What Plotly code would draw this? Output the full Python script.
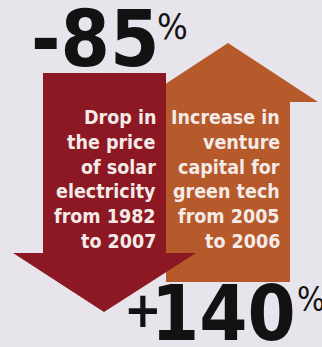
import plotly.graph_objects as go

# ---- data ----
values = ["-85", "+140"]
units = ["%", "%"]
labels_drop = ["Drop in", "the price", "of solar", "electricity", "from 1982", "to 2007"]
labels_rise = ["Increase in", "venture", "capital for", "green tech", "from 2005", "to 2006"]

# ---- style / layout constants ----
W, H = 322, 347
BG = "#e7e4eb"
RED = "#8b1822"
ORANGE = "#b6592b"
TXT = "#f4ebe8"
BODY_FONT = "DejaVu Sans Condensed, DejaVu Sans, sans-serif"
BIG_FONT = "DejaVu Sans Condensed, DejaVu Sans, sans-serif"

fig = go.Figure()

# orange (up) arrow, drawn first
ox = [166, 166, 138, 228, 318, 290, 290, 166]
oy = [282, 102, 102, 43, 102, 102, 282, 282]
fig.add_trace(go.Scatter(x=ox, y=oy, mode="lines", fill="toself",
                         fillcolor=ORANGE, line=dict(width=0, color=ORANGE),
                         hoverinfo="skip", showlegend=False))
# red (down) arrow on top
rx = [43, 166, 166, 196, 104, 13, 43, 43]
ry = [73, 73, 253, 253, 312, 253, 253, 73]
fig.add_trace(go.Scatter(x=rx, y=ry, mode="lines", fill="toself",
                         fillcolor=RED, line=dict(width=0, color=RED),
                         hoverinfo="skip", showlegend=False))

ann = []
base0, step = 125, 24.8
for i, t in enumerate(labels_drop):
    ann.append(dict(x=158, y=base0 + i * step - 7.5, text=t, xanchor="right", yanchor="middle",
                    showarrow=False, font=dict(family=BODY_FONT, size=19.5, color=TXT, weight="bold")))
for i, t in enumerate(labels_rise):
    ann.append(dict(x=282, y=base0 + i * step - 7.5, text=t, xanchor="right", yanchor="middle",
                    showarrow=False, font=dict(family=BODY_FONT, size=19.5, color=TXT, weight="bold")))

BLACK = "#121212"
# big numbers
ann.append(dict(x=29, y=39, text=values[0], xanchor="left", yanchor="middle", showarrow=False,
                font=dict(family=BIG_FONT, size=79, color=BLACK, weight="bold")))
ann.append(dict(x=155, y=26, text=units[0], xanchor="left", yanchor="middle", showarrow=False,
                font=dict(family=BODY_FONT, size=36, color=BLACK)))
ann.append(dict(x=143, y=310, text=values[1][0], xanchor="center", yanchor="middle", showarrow=False,
                font=dict(family=BIG_FONT, size=50, color=BLACK, weight="bold")))
ann.append(dict(x=298, y=313, text=values[1][1:], xanchor="right", yanchor="middle", showarrow=False,
                font=dict(family=BIG_FONT, size=77, color=BLACK, weight="bold")))
ann.append(dict(x=295, y=299, text=units[1], xanchor="left", yanchor="middle", showarrow=False,
                font=dict(family=BODY_FONT, size=33, color=BLACK)))

fig.update_layout(
    width=W, height=H, margin=dict(l=0, r=0, t=0, b=0),
    paper_bgcolor=BG, plot_bgcolor=BG,
    xaxis=dict(range=[0, W], visible=False, fixedrange=True),
    yaxis=dict(range=[H, 0], visible=False, fixedrange=True),
    annotations=ann,
)
fig.write_html("out.html", config={"displayModeBar": False})
